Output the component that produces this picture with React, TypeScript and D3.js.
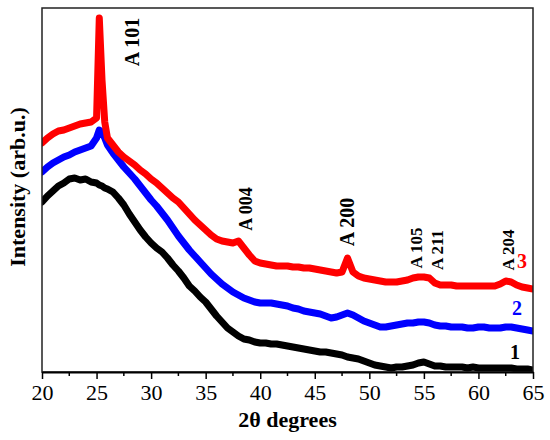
import React, { useEffect, useRef } from 'react';
import * as d3 from 'd3';

// 2θ sampling positions (degrees)
const twoTheta = [
  20, 20.5, 21, 21.5, 22, 22.5, 23, 23.5, 24, 24.5, 25, 25.25, 25.5, 25.75,
  26, 26.5, 27, 27.5, 28, 28.5, 29, 29.5, 30, 30.5, 31, 31.5, 32, 32.5, 33, 33.5,
  34, 34.5, 35, 35.5, 36, 36.5, 37, 37.5, 38, 38.5, 39, 39.5, 40, 40.5, 41, 41.5,
  42, 42.5, 43, 43.5, 44, 44.5, 45, 45.5, 46, 46.5, 47, 47.5, 48, 48.5, 49, 49.5,
  50, 50.5, 51, 51.5, 52, 52.5, 53, 53.5, 54, 54.5, 55, 55.5, 56, 56.5, 57, 57.5,
  58, 58.5, 59, 59.5, 60, 60.5, 61, 61.5, 62, 62.5, 63, 63.5, 64, 64.5, 65,
];

// intensities (arb. u.)
const sample1 = [
  170, 176, 181, 186, 189, 193, 194, 192, 193, 190, 189, 187, 186, 184,
  183, 180, 174, 167, 158, 150, 142, 135, 129, 124, 120, 114, 107, 101, 94, 86,
  81, 75, 70, 63, 56, 50, 44, 40, 36, 33, 32, 30, 29, 29, 28, 28,
  27, 26, 25, 24, 23, 22, 21, 20, 20, 19, 18, 17, 15, 14, 13, 11,
  9, 7, 6, 5, 4, 5, 5, 6, 7, 9, 10, 8, 6, 6, 5, 5,
  5, 5, 4, 5, 4, 4, 4, 4, 4, 4, 4, 3, 3, 3, 2,
];

const sample2 = [
  200, 205, 209, 212, 215, 217, 220, 222, 224, 226, 234, 242, 240, 234,
  227, 219, 212, 205, 199, 193, 186, 179, 172, 166, 159, 152, 144, 136, 129, 122,
  116, 110, 104, 98, 93, 88, 84, 80, 77, 74, 72, 70, 69, 69, 69, 68,
  67, 66, 64, 63, 61, 60, 59, 58, 56, 54, 55, 57, 59, 57, 54, 51,
  49, 47, 45, 45, 46, 47, 48, 49, 49, 50, 50, 49, 47, 46, 46, 45,
  45, 45, 44, 44, 45, 45, 44, 44, 44, 45, 45, 44, 43, 42, 41,
];

const sample3 = [
  229, 234, 238, 241, 242, 244, 246, 248, 249, 250, 254, 354, 292, 250,
  234, 227, 220, 215, 211, 207, 202, 198, 193, 189, 184, 179, 174, 170, 164, 158,
  152, 147, 142, 137, 133, 131, 130, 129, 131, 124, 117, 111, 109, 108, 107, 106,
  106, 106, 105, 105, 104, 104, 103, 102, 101, 100, 99, 100, 114, 100, 96, 94,
  93, 92, 91, 90, 90, 90, 91, 92, 94, 95, 95, 94, 89, 87, 87, 87,
  86, 86, 86, 86, 86, 86, 86, 86, 88, 91, 90, 87, 85, 84, 83,
];

const series = [
  { name: '1', values: sample1, color: '#000000' },
  { name: '2', values: sample2, color: '#0000ff' },
  { name: '3', values: sample3, color: '#ff0000' },
];

const peaks = [
  { label: 'A 101', x: 132, y: 42, size: 20 },
  { label: 'A 004', x: 246, y: 209, size: 18 },
  { label: 'A 200', x: 347, y: 222, size: 20 },
  { label: 'A 105', x: 416, y: 248, size: 17 },
  { label: 'A 211', x: 437, y: 250, size: 17 },
  { label: 'A 204', x: 508, y: 250, size: 17 },
];

const xTicks = [20, 25, 30, 35, 40, 45, 50, 55, 60, 65];
const xMinorTicks = [22.5, 27.5, 32.5, 37.5, 42.5, 47.5, 52.5, 57.5, 62.5];

const width = 550;
const height = 440;
const margin = { top: 8, right: 17, bottom: 68, left: 42 };

const App: React.FC = () => {
  const svgRef = useRef<SVGSVGElement>(null);

  useEffect(() => {
    if (!svgRef.current) return;
    const svg = d3.select(svgRef.current);
    svg.selectAll('*').remove();

    const font = '"Liberation Serif", "Times New Roman", serif';
    const x0 = margin.left;
    const x1 = width - margin.right;
    const y0 = height - margin.bottom;
    const y1 = margin.top;

    const xScale = d3.scaleLinear().domain([20, 65]).range([x0, x1]);
    const yScale = d3.scaleLinear().domain([0, 364]).range([y0, y1]);

    svg.append('defs')
      .append('clipPath')
      .attr('id', 'plot-clip')
      .append('rect')
      .attr('x', x0)
      .attr('y', y1)
      .attr('width', x1 - x0)
      .attr('height', y0 - y1);

    // Curves
    const line = d3
      .line<number>()
      .x((_, i) => xScale(twoTheta[i]))
      .y(d => yScale(d));

    const curves = svg.append('g').attr('clip-path', 'url(#plot-clip)');
    series.forEach(s => {
      curves.append('path')
        .datum(s.values)
        .attr('fill', 'none')
        .attr('stroke', s.color)
        .attr('stroke-width', 7)
        .attr('stroke-linejoin', 'round')
        .attr('stroke-linecap', 'round')
        .attr('d', line);
    });

    // Frame
    svg.append('rect')
      .attr('x', x0)
      .attr('y', y1)
      .attr('width', x1 - x0)
      .attr('height', y0 - y1)
      .attr('fill', 'none')
      .attr('stroke', '#222')
      .attr('stroke-width', 1.5);

    // X axis
    const xAxis = svg.append('g')
      .attr('transform', `translate(0,${y0})`)
      .call(
        d3.axisBottom(xScale)
          .tickValues(xTicks)
          .tickSize(7)
          .tickSizeOuter(0)
          .tickFormat(d3.format('d'))
      );
    xAxis.select('.domain').attr('stroke-width', 2);
    xAxis.selectAll('line').attr('stroke-width', 1.5);
    xAxis.selectAll('text')
      .attr('font-family', font)
      .attr('font-size', 22)
      .attr('fill', '#000')
      .attr('y', 12)
      .attr('dy', '0.71em');

    svg.append('g')
      .attr('transform', `translate(0,${y0})`)
      .selectAll('line')
      .data(xMinorTicks)
      .join('line')
      .attr('x1', d => xScale(d))
      .attr('x2', d => xScale(d))
      .attr('y1', 0)
      .attr('y2', 4)
      .attr('stroke', '#000')
      .attr('stroke-width', 1.5);

    // Axis titles
    svg.append('text')
      .attr('x', (x0 + x1) / 2)
      .attr('y', 427)
      .attr('text-anchor', 'middle')
      .attr('font-family', font)
      .attr('font-weight', 'bold')
      .attr('font-size', 22)
      .text('2θ degrees');

    svg.append('text')
      .attr('transform', `translate(17,187) rotate(-90)`)
      .attr('dy', '0.35em')
      .attr('text-anchor', 'middle')
      .attr('font-family', font)
      .attr('font-weight', 'bold')
      .attr('font-size', 22)
      .text('Intensity (arb.u.)');

    // Peak labels
    peaks.forEach(p => {
      svg.append('text')
        .attr('transform', `translate(${p.x},${p.y}) rotate(-90)`)
        .attr('dy', '0.35em')
        .attr('text-anchor', 'middle')
        .attr('font-family', font)
        .attr('font-weight', 'bold')
        .attr('font-size', p.size)
        .text(p.label);
    });

    // Sample numbers
    const numberPos = [
      { x: 515, y: 352 },
      { x: 517, y: 308 },
      { x: 522, y: 261 },
    ];
    series.forEach((s, i) => {
      svg.append('text')
        .attr('x', numberPos[i].x)
        .attr('y', numberPos[i].y)
        .attr('dy', '0.35em')
        .attr('text-anchor', 'middle')
        .attr('font-family', font)
        .attr('font-weight', 'bold')
        .attr('font-size', 20)
        .attr('fill', s.color)
        .text(s.name);
    });
  }, []);

  return (
    <div style={{ position: 'absolute', left: 0, top: 0, background: '#fff' }}>
      <svg ref={svgRef} width={width} height={height} />
    </div>
  );
};

export default App;
